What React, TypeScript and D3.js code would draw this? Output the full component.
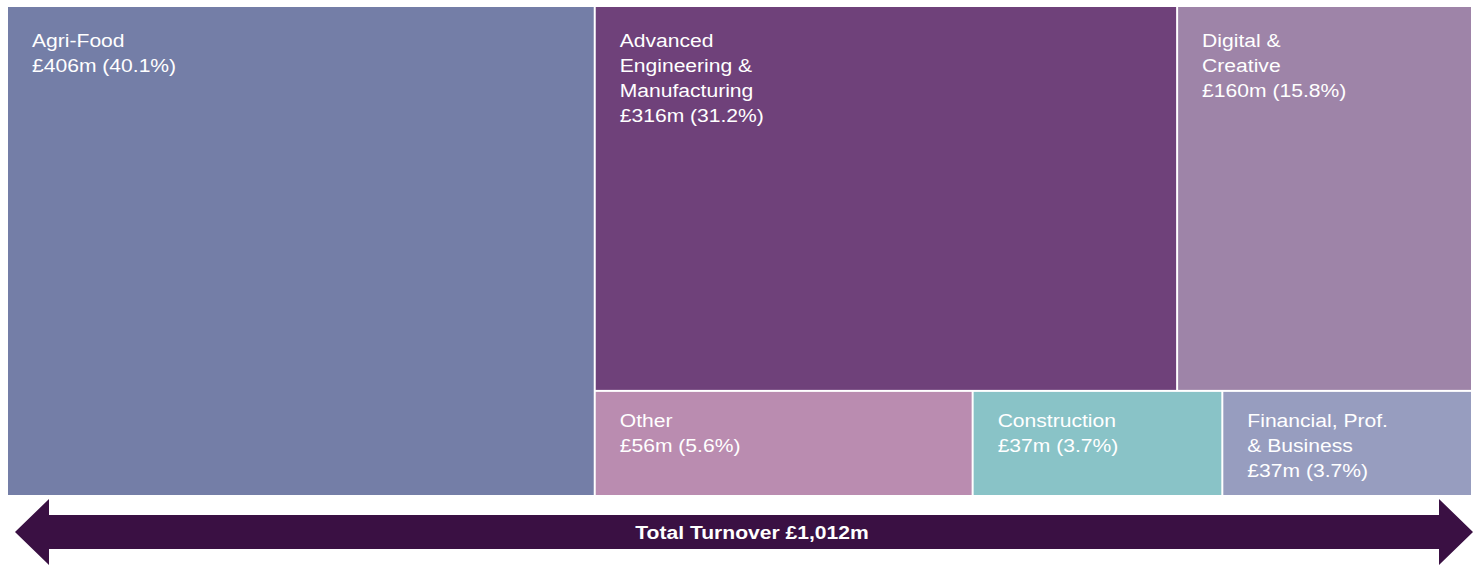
import React from "react";
import * as d3 from "d3";

const W = 1478;
const H = 565;

const sectors = ["Agri-Food", "Advanced Engineering & Manufacturing", "Digital & Creative", "Other", "Construction", "Financial, Prof. & Business"];
const labelLines = [["Agri-Food"], ["Advanced", "Engineering &", "Manufacturing"], ["Digital &", "Creative"], ["Other"], ["Construction"], ["Financial, Prof.", "& Business"]];
const turnover = [406, 316, 160, 56, 37, 37];
const shares = ["40.1%", "31.2%", "15.8%", "5.6%", "3.7%", "3.7%"];
const colors = ["#747EA7", "#6F417A", "#9E84A8", "#BA8CB0", "#89C3C7", "#979DBF"];
const totalLabel = "Total Turnover £1,012m";

type Node = { name: string; idx?: number; value?: number; children?: Node[] };

const leaf = (i: number): Node => ({ name: sectors[i], idx: i, value: turnover[i] });

const tree: Node = {
  name: "root",
  children: [
    leaf(0),
    {
      name: "rest",
      children: [
        { name: "top", children: [leaf(1), leaf(2)] },
        { name: "bottom", children: [leaf(3), leaf(4), leaf(5)] },
      ],
    },
  ],
};

const SX = 1.11;

export default function App() {
  const x0 = 8, y0 = 7, x1 = 1471, y1 = 495;
  const root = d3.hierarchy<Node>(tree).sum((d) => d.value || 0);
  d3.treemap<Node>()
    .tile(d3.treemapSliceDice)
    .size([x1 - x0, y1 - y0])
    .paddingInner(2)
    .round(false)(root);
  const leaves = root.leaves() as d3.HierarchyRectangularNode<Node>[];

  // arrow
  const ax0 = 15, ax1 = 1473, ay = 532, head = 34, halfHead = 33, halfShaft = 17;
  const arrowPts = [
    [ax0, ay],
    [ax0 + head, ay - halfHead],
    [ax0 + head, ay - halfShaft],
    [ax1 - head, ay - halfShaft],
    [ax1 - head, ay - halfHead],
    [ax1, ay],
    [ax1 - head, ay + halfHead],
    [ax1 - head, ay + halfShaft],
    [ax0 + head, ay + halfShaft],
    [ax0 + head, ay + halfHead],
  ];
  const line = d3.line();

  return (
    <svg
      width={W}
      height={H}
      style={{ position: "absolute", left: 0, top: 0, fontFamily: "'Liberation Sans', Arial, sans-serif" }}
    >
      <rect width={W} height={H} fill="#ffffff" />
      <g transform={`translate(${x0},${y0})`}>
        {leaves.map((n) => {
          const i = n.data.idx as number;
          const lines = [...labelLines[i], `£${turnover[i]}m (${shares[i]})`];
          const h = n.y1 - n.y0;
          const ty = n.y0 + (h > 200 ? 40 : 35);
          const tx = n.x0 + 24;
          return (
            <g key={n.data.name}>
              <rect x={n.x0} y={n.y0} width={n.x1 - n.x0} height={h} fill={colors[i]} />
              <g transform={`translate(${tx},${ty}) scale(${SX},1)`}>
                <text x={0} y={0} fill="#ffffff" fontSize={19}>
                  {lines.map((l, k) => (
                    <tspan key={k} x={0} y={k * 25}>
                      {l}
                    </tspan>
                  ))}
                </text>
              </g>
            </g>
          );
        })}
      </g>
      <path d={line(arrowPts as [number, number][]) + "Z"} fill="#3A1043" />
      <g transform={`translate(752,539) scale(${SX},1)`}>
        <text x={0} y={0} textAnchor="middle" fill="#ffffff" fontSize={19} fontWeight="bold">
          {totalLabel}
        </text>
      </g>
    </svg>
  );
}
